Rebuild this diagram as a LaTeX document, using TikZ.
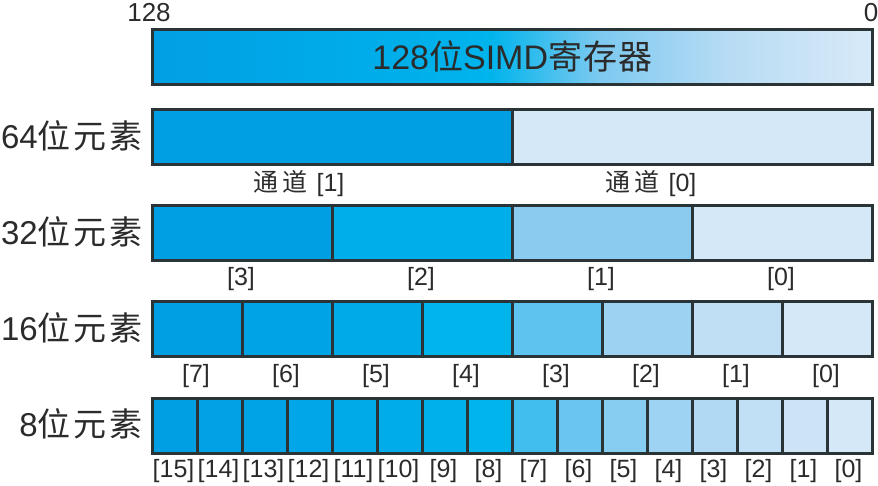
\documentclass[tikz,border=0pt]{standalone}
\usepackage{fontspec}
\setmainfont{Liberation Sans}
\newfontfamily\cjk{Noto Sans CJK SC}
\definecolor{edge}{HTML}{2A3436}
\definecolor{txt}{HTML}{2B2B2B}
\definecolor{ga}{HTML}{009FE4}
\definecolor{gb}{HTML}{00B4EC}
\definecolor{gc}{HTML}{7CC9F0}
\definecolor{gd}{HTML}{B8DCF4}
\definecolor{ge}{HTML}{D8EAF8}
\pgfdeclarehorizontalshading{regshade}{100bp}{color(0bp)=(ga); color(25bp)=(ga); color(48.5bp)=(gb); color(56bp)=(gc); color(65bp)=(gd); color(75bp)=(ge); color(100bp)=(ge)}
\newcommand{\cjkgap}{\hspace{3pt}}
\begin{document}
\begin{tikzpicture}[x=1pt,y=-1pt,
  cell/.style={draw=edge, line width=2.5pt, inner sep=0pt, minimum height=55pt, anchor=north west},
  rowlab/.style={anchor=east, text=txt, font=\fontsize{33}{36}\selectfont, inner sep=0pt},
  idx/.style={text=txt, font=\fontsize{25}{28}\selectfont, inner sep=0pt},
  bitlab/.style={text=txt, font=\fontsize{26}{28}\selectfont, inner sep=0pt}]
\useasboundingbox (0,0) rectangle (878,485);

% bit numbers
\node[bitlab] (b128) at (149,13) {128};
\node[bitlab] (b0) at (871,13) {0};

% 128-bit register
\node[cell, minimum width=720pt, shade, shading=regshade, text=txt, font=\fontsize{34}{38}\selectfont] (reg) at (151,28) {128{\cjk 位}SIMD{\cjk 寄\hspace{1pt}存\hspace{1pt}器}};

% 64-bit
\foreach \c [count=\i from 0] in {009FE4,D5E8F7}{
  \definecolor{tmp}{HTML}{\c}
  \node[cell, minimum width=360pt, fill=tmp] (e64-\i) at ({151+360*\i},108) {};
}
\node[rowlab] (l64) at (143,136) {64{\cjk 位\cjkgap 元\cjkgap 素}};
\node[idx] (t1) at (299,184) {{\cjk 通\hspace{4pt}道}\hspace{9pt}[1]};
\node[idx] (t0) at (651,184) {{\cjk 通\hspace{4pt}道}\hspace{9pt}[0]};

% 32-bit
\foreach \c [count=\i from 0] in {009FE4,00AEE9,8CCBF0,D5E8F7}{
  \definecolor{tmp}{HTML}{\c}
  \node[cell, minimum width=180pt, fill=tmp] (e32-\i) at ({151+180*\i},204) {};
  \pgfmathtruncatemacro{\n}{3-\i}
  \node[idx] (n32-\i) at ({241+180*\i},279) {[\n]};
}
\node[rowlab] (l32) at (143,232) {32{\cjk 位\cjkgap 元\cjkgap 素}};

% 16-bit
\foreach \c [count=\i from 0] in {009FE4,00A4E6,00A9E8,00B4EC,5FC3EF,9DD2F3,C0DFF5,D5E8F7}{
  \definecolor{tmp}{HTML}{\c}
  \node[cell, minimum width=90pt, fill=tmp] (e16-\i) at ({151+90*\i},300) {};
  \pgfmathtruncatemacro{\n}{7-\i}
  \node[idx] (n16-\i) at ({196+90*\i},376) {[\n]};
}
\node[rowlab] (l16) at (143,328) {16{\cjk 位\cjkgap 元\cjkgap 素}};

% 8-bit
\foreach \c [count=\i from 0] in {009FE4,00A1E5,00A4E6,00A6E7,00A9E8,00ACE9,00B0EA,00B4EC,41BDEE,6AC6F0,86CDF1,9FD3F3,B2D9F4,C2E0F5,CCE4F6,D5E8F7}{
  \definecolor{tmp}{HTML}{\c}
  \node[cell, minimum width=45pt, fill=tmp] (e8-\i) at ({151+45*\i},397) {};
  \pgfmathtruncatemacro{\n}{15-\i}
  \node[idx] (n8-\i) at ({173.5+45*\i},471) {[\n]};
}
\node[rowlab] (l8) at (143,424) {8{\cjk 位\cjkgap 元\cjkgap 素}};
\end{tikzpicture}
\end{document}
